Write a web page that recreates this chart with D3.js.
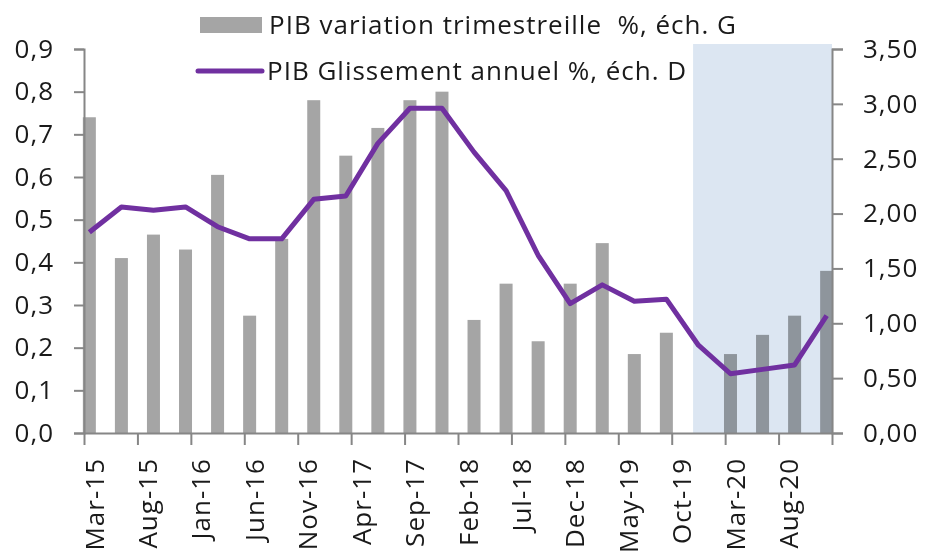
<!DOCTYPE html>
<html lang="fr">
<head>
    <meta charset="utf-8">
    <style>
        body { margin: 0; background: #fff; }
        svg text { font-family: "Open Sans", sans-serif; fill: #1a1a1a; letter-spacing: 1px; }
        .axis path, .axis line { stroke: #868686; stroke-width: 2; }
        .axis text { font-size: 26px; }
        .legend text { font-size: 26px; white-space: pre; }
    </style>
    <script src="https://d3js.org/d3.v7.min.js"></script>
</head>
<body>
    <svg width="925" height="553"></svg>
    <script>
        // quarterly data, Mar-15 .. Dec-20
        var quarters = ["2015-03", "2015-06", "2015-09", "2015-12",
                        "2016-03", "2016-06", "2016-09", "2016-12",
                        "2017-03", "2017-06", "2017-09", "2017-12",
                        "2018-03", "2018-06", "2018-09", "2018-12",
                        "2019-03", "2019-06", "2019-09", "2019-12",
                        "2020-03", "2020-06", "2020-09", "2020-12"];
        var pibTrim = [0.74, 0.41, 0.465, 0.43, 0.605, 0.275, 0.455, 0.78,
                       0.65, 0.715, 0.78, 0.80, 0.265, 0.35, 0.215, 0.35,
                       0.445, 0.185, 0.235, -0.1, 0.185, 0.23, 0.275, 0.38];
        var pibGa = [1.83, 2.06, 2.03, 2.06, 1.88, 1.77, 1.77, 2.13,
                     2.16, 2.64, 2.96, 2.96, 2.56, 2.21, 1.62, 1.18,
                     1.35, 1.20, 1.22, 0.80, 0.54, 0.58, 0.62, 1.07];
        var tickLabels = ["Mar-15", "Aug-15", "Jan-16", "Jun-16", "Nov-16", "Apr-17", "Sep-17",
                          "Feb-18", "Jul-18", "Dec-18", "May-19", "Oct-19", "Mar-20", "Aug-20"];
        var forecastStart = "2019-12";
        var leftTicks = [0, 0.1, 0.2, 0.3, 0.4, 0.5, 0.6, 0.7, 0.8, 0.9];
        var rightTicks = [0, 0.5, 1, 1.5, 2, 2.5, 3, 3.5];

        var svg = d3.select("svg"),
            mLeft = 84, mRight = 832, mTop = 49, mBottom = 433;

        var parseQ = d3.timeParse("%Y-%m"),
            parseTick = d3.timeParse("%b-%y");

        // month index from Mar-15 (date axis, one slot per month)
        function monthIdx(d) {
            return (d.getFullYear() - 2015) * 12 + d.getMonth() - 2;
        }

        var nMonths = monthIdx(parseQ(quarters[quarters.length - 1])) + 1;

        var x = d3.scaleLinear().domain([0, nMonths]).range([mLeft, mRight]),
            yL = d3.scaleLinear().domain([0, 0.9]).range([mBottom, mTop]),
            yR = d3.scaleLinear().domain([0, 3.5]).range([mBottom, mTop]);

        var data = quarters.map(function(q, i) {
            return { m: monthIdx(parseQ(q)), bar: pibTrim[i], line: pibGa[i] };
        });

        var barW = 13;

        svg.append("g").selectAll("rect")
            .data(data)
            .enter().append("rect")
            .attr("x", function(d) { return x(d.m + 0.5) - barW / 2; })
            .attr("width", barW)
            .attr("y", function(d) { return yL(Math.max(0, d.bar)); })
            .attr("height", function(d) { return yL(0) - yL(Math.max(0, d.bar)); })
            .attr("fill", "#a5a5a5");

        // forecast shading
        var xf = x(monthIdx(parseQ(forecastStart)));
        svg.append("rect")
            .attr("x", xf)
            .attr("y", mTop - 5)
            .attr("width", mRight - xf)
            .attr("height", mBottom - mTop + 5)
            .attr("fill", "#dce6f2")
            .style("mix-blend-mode", "multiply");

        var fmt1 = d3.format(".1f"), fmt2 = d3.format(".2f");

        svg.append("g")
            .attr("class", "axis")
            .attr("transform", "translate(" + mLeft + ",0)")
            .call(d3.axisLeft(yL).tickValues(leftTicks).tickSize(10).tickPadding(20)
                .tickFormat(function(d) { return fmt1(d).replace(".", ","); }));

        svg.append("g")
            .attr("class", "axis")
            .attr("transform", "translate(" + mRight + ",0)")
            .call(d3.axisRight(yR).tickValues(rightTicks).tickSize(11).tickPadding(20)
                .tickFormat(function(d) { return fmt2(d).replace(".", ","); }));

        var tickIdx = tickLabels.map(function(t) { return monthIdx(parseTick(t)); }).concat([nMonths]);

        var gx = svg.append("g")
            .attr("class", "axis")
            .attr("transform", "translate(0," + mBottom + ")")
            .call(d3.axisBottom(x).tickValues(tickIdx).tickSize(12).tickSizeOuter(0)
                .tickFormat(function(d, i) { return tickLabels[i] || ""; }));

        gx.selectAll("text")
            .attr("transform", "rotate(-90)")
            .attr("text-anchor", "end")
            .attr("x", -25)
            .attr("y", 10)
            .attr("dy", "0.35em");

        var line = d3.line()
            .x(function(d) { return x(d.m + 0.5); })
            .y(function(d) { return yR(d.line); });

        svg.append("path")
            .datum(data)
            .attr("d", line)
            .attr("fill", "none")
            .attr("stroke", "#7030a0")
            .attr("stroke-width", 5)
            .attr("stroke-linejoin", "round");

        // legend
        var lg = svg.append("g").attr("class", "legend");
        lg.append("rect")
            .attr("x", 200).attr("y", 17).attr("width", 62).attr("height", 16)
            .attr("fill", "#a5a5a5");
        lg.append("text")
            .attr("x", 269).attr("y", 34)
            .text("PIB variation trimestreille  %, éch. G");
        lg.append("line")
            .attr("x1", 198).attr("x2", 262).attr("y1", 71).attr("y2", 71)
            .attr("stroke", "#7030a0").attr("stroke-width", 5).attr("stroke-linecap", "round");
        lg.append("text")
            .attr("x", 267).attr("y", 80)
            .text("PIB Glissement annuel %, éch. D");
    </script>
</body>
</html>
